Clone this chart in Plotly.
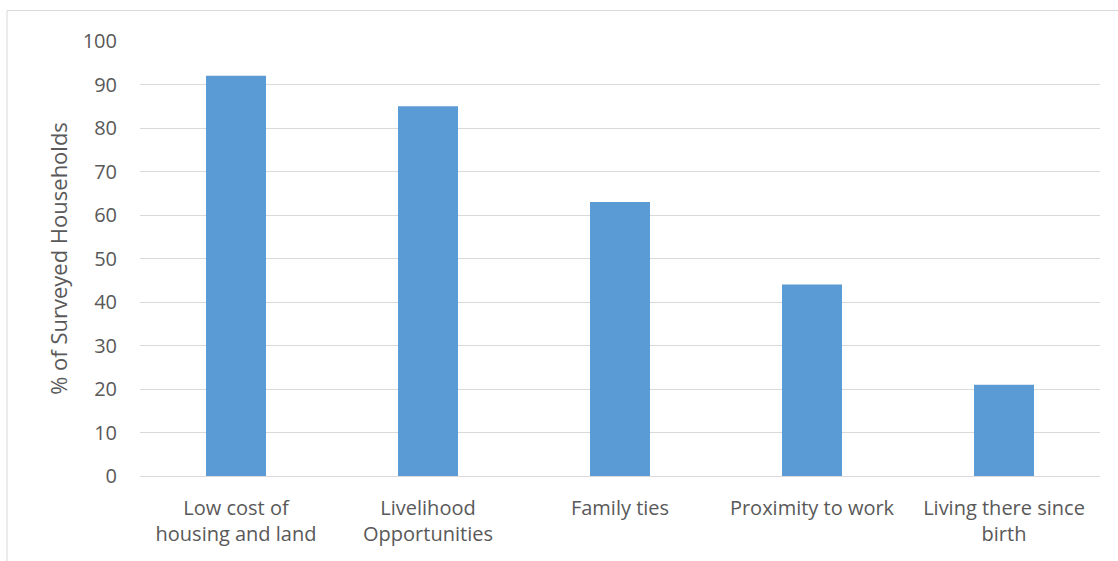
import plotly.graph_objects as go

categories = ["Low cost of<br>housing and land", "Livelihood<br>Opportunities", "Family ties",
              "Proximity to work", "Living there since<br>birth"]
values = [92, 85, 63, 44, 21]
y_ticks = [0, 10, 20, 30, 40, 50, 60, 70, 80, 90, 100]

FONT = "Open Sans"
GREY = "#595959"

fig = go.Figure(go.Bar(x=categories, y=values, marker=dict(color="#5b9bd5", line=dict(width=0)),
                       width=0.3125))

fig.update_layout(
    width=1118, height=561,
    margin=dict(l=140, r=18, t=41, b=85),
    paper_bgcolor="white", plot_bgcolor="white",
    font=dict(family=FONT, size=20, color=GREY),
    showlegend=False,
    bargap=0.6875,
    xaxis=dict(showgrid=False, showline=False, ticks="", tickfont=dict(size=20, color=GREY),
               ticklabelstandoff=18, tickangle=0),
    yaxis=dict(range=[0, 100], tickvals=y_ticks, showgrid=True, gridcolor="#d9d9d9", gridwidth=1,
               zeroline=True, zerolinecolor="#d9d9d9", zerolinewidth=1, showline=False,
               tickfont=dict(size=20, color=GREY), ticklabelstandoff=22,
               title=dict(text="% of Surveyed Households", font=dict(size=22, color=GREY), standoff=8)),
    shapes=[dict(type="rect", xref="paper", yref="paper", x0=-0.1385, x1=1.2, y0=-0.4, y1=1.0701,
                 line=dict(color="#d9d9d9", width=1), fillcolor="rgba(0,0,0,0)", layer="below")],
)

fig.write_html("out.html")
